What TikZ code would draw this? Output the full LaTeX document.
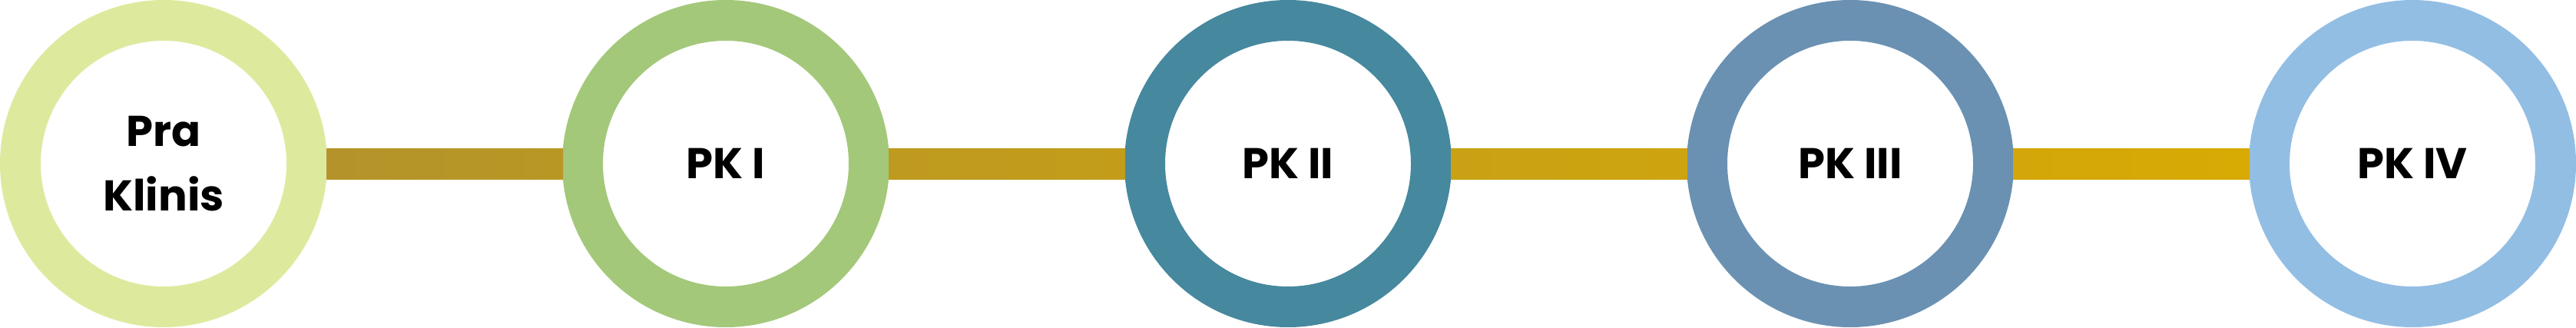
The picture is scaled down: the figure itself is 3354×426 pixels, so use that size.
\documentclass[tikz,border=0pt]{standalone}
\usepackage{fontspec}
\setmainfont{Poppins}[BoldFont={Poppins Bold}]
\usetikzlibrary{calc}
\definecolor{ringA}{RGB}{221,234,158}
\definecolor{ringB}{RGB}{163,200,122}
\definecolor{ringC}{RGB}{70,136,158}
\definecolor{ringD}{RGB}{106,145,178}
\definecolor{ringE}{RGB}{147,190,228}
\definecolor{barA1}{RGB}{180,148,42}
\definecolor{barA2}{RGB}{184,151,37}
\definecolor{barB1}{RGB}{190,154,31}
\definecolor{barB2}{RGB}{195,157,26}
\definecolor{barC1}{RGB}{201,161,20}
\definecolor{barC2}{RGB}{205,164,15}
\definecolor{barD1}{RGB}{211,167,9}
\definecolor{barD2}{RGB}{216,170,4}
\tikzset{
  ring/.style={circle, draw=#1, line width=53bp, minimum size=373bp, inner sep=0pt,
    fill=white, align=center, font=\fontsize{56bp}{84bp}\selectfont\bfseries},
}
\begin{document}
\begin{tikzpicture}[x=1bp,y=1bp]
\useasboundingbox (0,0) rectangle (3354,426);
\node[ring=ringA] (n0) at (213,213) {Pra\\Klinis};
\node[ring=ringB] (n1) at (945,213) {PK I};
\node[ring=ringC] (n2) at (1677,213) {PK II};
\node[ring=ringD] (n3) at (2409,213) {PK III};
\node[ring=ringE] (n4) at (3141,213) {PK IV};
\path[left color=barA1, right color=barA2] ($(n0.east)+(-1,-20)$) rectangle ($(n1.west)+(1,20)$);
\path[left color=barB1, right color=barB2] ($(n1.east)+(-1,-20)$) rectangle ($(n2.west)+(1,20)$);
\path[left color=barC1, right color=barC2] ($(n2.east)+(-1,-20)$) rectangle ($(n3.west)+(1,20)$);
\path[left color=barD1, right color=barD2] ($(n3.east)+(-1,-20)$) rectangle ($(n4.west)+(1,20)$);
\end{tikzpicture}
\end{document}
